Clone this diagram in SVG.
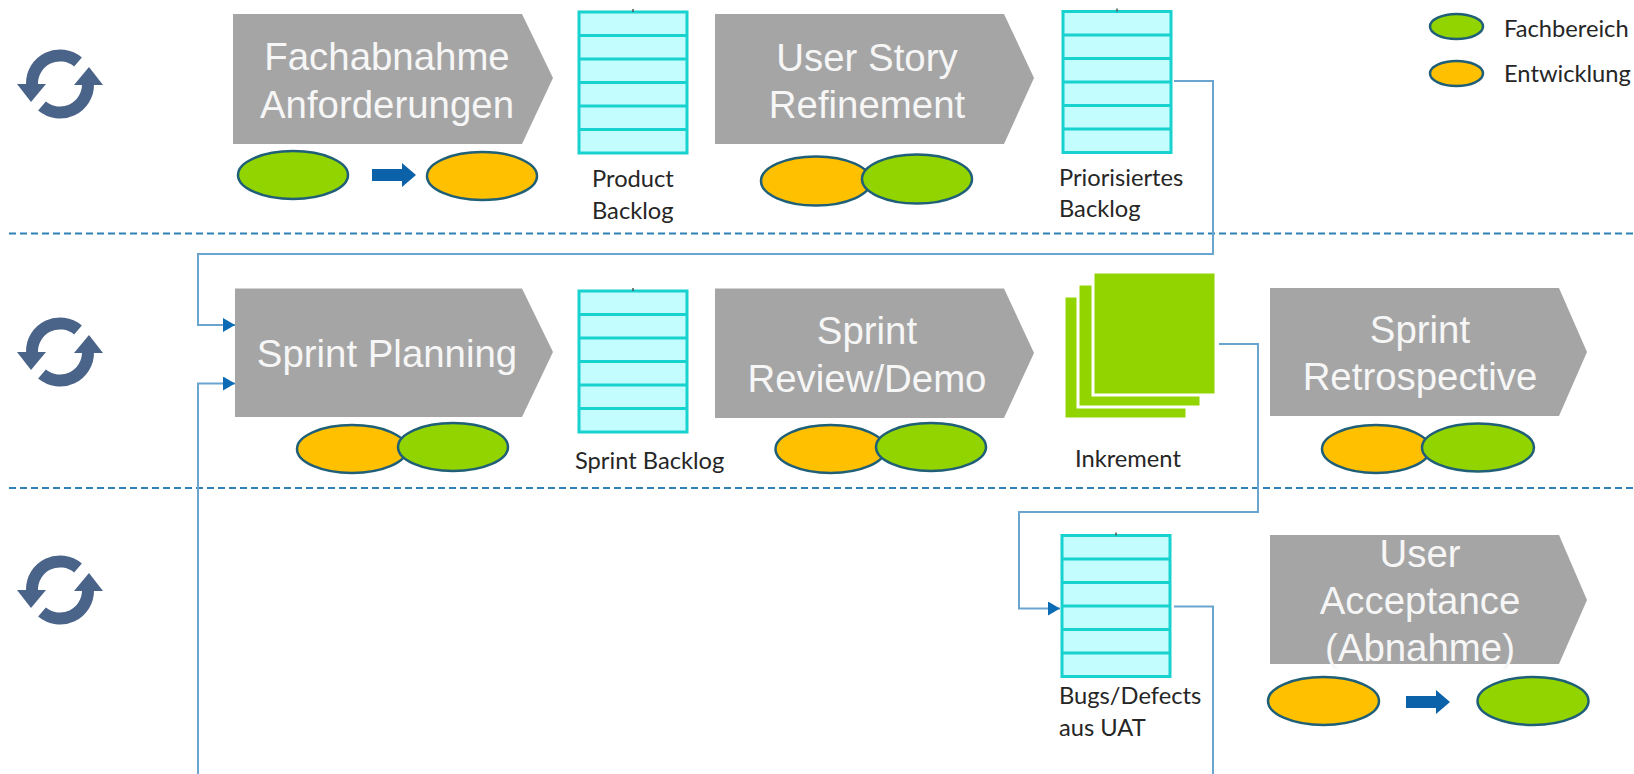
<svg xmlns="http://www.w3.org/2000/svg" width="1634" height="774" viewBox="0 0 1634 774">
<style>
.chev{fill:#a5a5a5}
.ct{font-family:"Liberation Sans",Arial,sans-serif;font-size:38.4px;fill:#f6f6f6;text-anchor:middle}
.lb{font-family:Lato,"Open Sans",sans-serif;font-size:23.7px;fill:#262626}
.g{fill:#92d400;stroke:#1f5f78;stroke-width:2.5}
.o{fill:#ffc000;stroke:#1f5f78;stroke-width:2.5}
.bar{fill:#c4fdfd;stroke:#17d2cf;stroke-width:3}
.bl{fill:none;stroke:#17d2cf;stroke-width:3}
.dash{fill:none;stroke:#2f80b4;stroke-width:2.2;stroke-dasharray:7 4}
.con{fill:none;stroke:#69a5cf;stroke-width:2}
.inc{fill:#92d400;stroke:#fff;stroke-width:3}
.blk{fill:#0b62a8}
.arc{fill:none;stroke:#4a6388;stroke-width:12}
.hd{fill:#4a6388}
</style>
<defs>
<marker id="ah" markerUnits="userSpaceOnUse" markerWidth="13" markerHeight="14" refX="12" refY="7" orient="auto"><path d="M0 0L12 7L0 14Z" fill="#0b6cb5"/></marker>
<g id="sync">
<path class="arc" d="M18-22A28 28 0 0 0-28 0"/><path class="hd" d="M-43 0H-14L-29 18Z"/>
<path class="arc" d="M-18 22A28 28 0 0 0 28 0"/><path class="hd" d="M43 1H14L29-17Z"/>
</g>
<g id="stack">
<rect class="bar" x="0" y="0" width="108" height="141"/>
<path class="bl" d="M0 23.500H108M0 47H108M0 70.500H108M0 94H108M0 117.500H108"/>
<path d="M54-3V0" stroke="#555" stroke-width="1.500"/>
</g>
<path id="blockarrow" class="blk" d="M0-6H30V-12L44 0L30 12V6H0Z"/>
</defs>

<g id="icons">
<use href="#sync" x="60" y="84"/>
<use href="#sync" x="60" y="352"/>
<use href="#sync" x="60" y="590"/>
</g>

<g id="separators">
<path class="dash" d="M9 233.500H1634"/>
<path class="dash" d="M9 488H1634"/>
</g>

<g id="connectors">
<path class="con" d="M1174 81H1213V254H198V325H235" marker-end="url(#ah)"/>
<path class="con" d="M198 774V383.500H235" marker-end="url(#ah)"/>
<path class="con" d="M1219 344H1258V512H1019V608.500H1060" marker-end="url(#ah)"/>
<path class="con" d="M1174 606.500H1213V774"/>
</g>

<g id="legend">
<ellipse class="g" cx="1456.500" cy="26.500" rx="26.500" ry="12.500"/>
<ellipse class="o" cx="1456.500" cy="73.500" rx="26.500" ry="12.500"/>
<text class="lb" x="1504" y="37">Fachbereich</text>
<text class="lb" x="1504" y="82">Entwicklung</text>
</g>

<g id="fachabnahme">
<path class="chev" d="M233 14H522L553 78L522 144H233Z"/>
<text class="ct" x="387" y="70">Fachabnahme</text>
<text class="ct" x="387" y="118">Anforderungen</text>
<ellipse class="g" cx="293" cy="175" rx="55" ry="24"/>
<use href="#blockarrow" x="372" y="175"/>
<ellipse class="o" cx="482" cy="176" rx="55" ry="24"/>
</g>

<g id="product-backlog">
<use href="#stack" x="579" y="12"/>
<text class="lb" x="592" y="187">Product</text>
<text class="lb" x="592" y="219">Backlog</text>
</g>

<g id="user-story-refinement">
<path class="chev" d="M715 14H1004L1034 78L1004 144H715Z"/>
<text class="ct" x="867" y="71">User Story</text>
<text class="ct" x="867" y="118">Refinement</text>
<ellipse class="o" cx="816" cy="181" rx="55" ry="24.500"/>
<ellipse class="g" cx="917" cy="179" rx="55" ry="24.500"/>
</g>

<g id="priorisiertes-backlog">
<use href="#stack" x="1063" y="11.500"/>
<text class="lb" x="1059" y="186">Priorisiertes</text>
<text class="lb" x="1059" y="217">Backlog</text>
</g>

<g id="sprint-planning">
<path class="chev" d="M235 288.500H522L553 352L522 417H235Z"/>
<text class="ct" x="387" y="367">Sprint Planning</text>
<ellipse class="o" cx="352" cy="449" rx="55" ry="24"/>
<ellipse class="g" cx="453" cy="447" rx="55" ry="24"/>
</g>

<g id="sprint-backlog">
<use href="#stack" x="579" y="291"/>
<text class="lb" x="575" y="469">Sprint Backlog</text>
</g>

<g id="sprint-review">
<path class="chev" d="M715 288.500H1004L1034 353L1004 418H715Z"/>
<text class="ct" x="867" y="344">Sprint</text>
<text class="ct" x="867" y="392">Review/Demo</text>
<ellipse class="o" cx="830.500" cy="449" rx="55" ry="24"/>
<ellipse class="g" cx="931" cy="447" rx="55" ry="24"/>
</g>

<g id="inkrement">
<rect class="inc" x="1064" y="296" width="123" height="123"/>
<rect class="inc" x="1078" y="284" width="123" height="123"/>
<rect class="inc" x="1093" y="272" width="123" height="123"/>
<text class="lb" x="1075" y="467">Inkrement</text>
</g>

<g id="sprint-retrospective">
<path class="chev" d="M1270 288H1559L1587 352L1559 416H1270Z"/>
<text class="ct" x="1420" y="343">Sprint</text>
<text class="ct" x="1420" y="390">Retrospective</text>
<ellipse class="o" cx="1376" cy="449" rx="54" ry="24"/>
<ellipse class="g" cx="1478" cy="447.500" rx="56" ry="24"/>
</g>

<g id="bugs-backlog">
<use href="#stack" x="1062" y="535.500"/>
<text class="lb" x="1059" y="704">Bugs/Defects</text>
<text class="lb" x="1059" y="736">aus UAT</text>
</g>

<g id="user-acceptance">
<path class="chev" d="M1270 535H1559L1587 600L1559 664H1270Z"/>
<text class="ct" x="1420" y="567">User</text>
<text class="ct" x="1420" y="614">Acceptance</text>
<text class="ct" x="1420" y="661">(Abnahme)</text>
<ellipse class="o" cx="1323.500" cy="701" rx="55.500" ry="24"/>
<use href="#blockarrow" x="1406" y="702"/>
<ellipse class="g" cx="1533" cy="701" rx="55.500" ry="24"/>
</g>
</svg>
